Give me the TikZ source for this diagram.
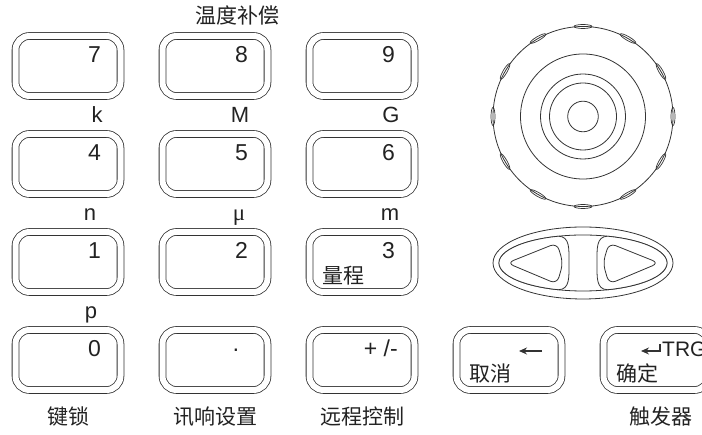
\documentclass[tikz,border=0pt]{standalone}
\usepackage{fontspec}
\setmainfont{Liberation Sans}
\newfontfamily\zhfont{Noto Sans CJK SC}
\newfontfamily\mufont{Liberation Serif}
\usetikzlibrary{positioning,arrows.meta}
\definecolor{panelline}{RGB}{51,51,51}
\definecolor{paneltext}{RGB}{34,34,34}

\begin{document}
\begin{tikzpicture}[
    x=1pt, y=1pt,
    node distance=38pt and 42pt,
    keycap/.style={rectangle, draw=panelline, line width=0.8pt, double=white, double distance=6pt, rounded corners=14pt, minimum width=105pt, minimum height=60pt, inner sep=0pt, outer sep=0pt},
    keytext/.style={font=\fontsize{23}{27}\selectfont, text=paneltext, inner sep=0pt, anchor=base east},
    keyname/.style={font=\zhfont\fontsize{21}{25}\selectfont, text=paneltext, inner sep=0pt, anchor=base west},
    unit/.style={font=\fontsize{22}{26}\selectfont, text=paneltext, inner sep=0pt, anchor=base},
    caption/.style={font=\zhfont\fontsize{21}{25}\selectfont, text=paneltext, inner sep=0pt, anchor=base},
    trace/.style={draw=panelline, line width=0.8pt}
]
\clip (0,0) rectangle (702,435);

\node[keycap] (k7) at (68,369) {};
\node[keycap, right=of k7] (k8) {};
\node[keycap, right=of k8] (k9) {};
\node[keycap, below=of k7] (k4) {};
\node[keycap, right=of k4] (k5) {};
\node[keycap, right=of k5] (k6) {};
\node[keycap, below=of k4] (k1) {};
\node[keycap, right=of k1] (k2) {};
\node[keycap, right=of k2] (k3) {};
\node[keycap, below=of k1] (k0) {};
\node[keycap, right=of k0] (kdot) {};
\node[keycap, right=of kdot] (ksign) {};
\node[keycap, right=of ksign] (kesc) {};
\node[keycap, right=of kesc] (kenter) {};

\node[keytext] (t7) at ([shift={(33pt,3pt)}]k7.center) {7};
\node[keytext] (t8) at ([shift={(33pt,3pt)}]k8.center) {8};
\node[keytext] (t9) at ([shift={(33pt,3pt)}]k9.center) {9};
\node[keytext] (t4) at ([shift={(33pt,3pt)}]k4.center) {4};
\node[keytext] (t5) at ([shift={(33pt,3pt)}]k5.center) {5};
\node[keytext] (t6) at ([shift={(33pt,3pt)}]k6.center) {6};
\node[keytext] (t1) at ([shift={(33pt,3pt)}]k1.center) {1};
\node[keytext] (t2) at ([shift={(33pt,3pt)}]k2.center) {2};
\node[keytext] (t3) at ([shift={(33pt,3pt)}]k3.center) {3};
\node[keytext] (t0) at ([shift={(33pt,3pt)}]k0.center) {0};
\node[keytext, anchor=base] (tdot) at ([shift={(21pt,3pt)}]kdot.center) {·};
\node[keytext] (tsign) at ([shift={(36pt,3pt)}]ksign.center) {+ /-};

\node[keyname] (range) at ([shift={(-40pt,-22pt)}]k3.center) {量程};
\node[keyname] (cancel) at ([shift={(-40pt,-22pt)}]kesc.center) {取消};
\node[keyname] (confirm) at ([shift={(-40pt,-22pt)}]kenter.center) {确定};
\node[keytext, anchor=base west, font=\fontsize{21}{25}\selectfont] (trg) at ([shift={(6pt,3pt)}]kenter.center) {TRG};

\coordinate (esctip) at ([shift={(10pt,9pt)}]kesc.center);
\coordinate (esctail) at ([shift={(33pt,9pt)}]kesc.center);
\draw[trace, line width=1.2pt, -{Stealth[length=8pt,width=7pt]}] (esctail) -- (esctip);
\coordinate (entertip) at ([shift={(-15pt,9pt)}]kenter.center);
\coordinate (enterbend) at ([shift={(4pt,9pt)}]kenter.center);
\coordinate (entertop) at ([shift={(4pt,16pt)}]kenter.center);
\draw[trace, line width=1.2pt, {Stealth[length=8pt,width=7pt]}-] (entertip) -- (enterbend) -- (entertop);

\node[unit] (uk) at ([shift={(29pt,11pt)}]k4.north) {k};
\node[unit] (uM) at ([shift={(25pt,11pt)}]k5.north) {M};
\node[unit] (uG) at ([shift={(29pt,11pt)}]k6.north) {G};
\node[unit] (un) at ([shift={(22pt,11pt)}]k1.north) {n};
\node[unit, font=\mufont\fontsize{23}{27}\selectfont] (umu) at ([shift={(24pt,11pt)}]k2.north) {μ};
\node[unit] (um) at ([shift={(28pt,11pt)}]k3.north) {m};
\node[unit] (up) at ([shift={(23pt,11pt)}]k0.north) {p};

\node[caption] (comp) at ([shift={(22pt,12pt)}]k8.north) {温度补偿};
\node[caption] (lock) at ([yshift=-35pt]k0.south) {键锁};
\node[caption] (beep) at ([yshift=-35pt]kdot.south) {讯响设置};
\node[caption] (remote) at ([yshift=-35pt]ksign.south) {远程控制};
\node[caption] (trigger) at ([shift={(5pt,-35pt)}]kenter.south) {触发器};

\coordinate (knob) at (583,318.5);
\draw[trace] (knob) circle[radius=90];
\foreach \r in {62.5,42.5,33.5,15.3}
    \draw[trace] (knob) circle[radius=\r];
\begin{scope}[shift={(knob)}]
    \foreach \a in {0,30,...,330}
        \draw[trace, line width=0.7pt, rotate=\a] (90,0) ellipse[x radius=2, y radius=9];
\end{scope}

\coordinate (pad) at (583,172);
\draw[trace] (pad) ellipse[x radius=90, y radius=36];
\draw[trace] (pad) ellipse[x radius=84, y radius=28];
\draw[trace, fill=white] (558.4,198.8) arc[start angle=107, end angle=253, x radius=84, y radius=28]
    .. controls (570,145.5) and (569,158) .. (569,172) .. controls (569,186) and (570,198.5) .. cycle;
\draw[trace, fill=white] (607.6,198.8) arc[start angle=73, end angle=-73, x radius=84, y radius=28]
    .. controls (596,145.5) and (597,158) .. (597,172) .. controls (597,186) and (596,198.5) .. cycle;
\draw[trace, rounded corners=7pt] (532,182) -- (557,192) -- (563,172) -- (557,151) -- (507,172) -- cycle;
\draw[trace, rounded corners=7pt] (634,182) -- (609,192) -- (603,172) -- (609,151) -- (659,172) -- cycle;

\end{tikzpicture}
\end{document}
